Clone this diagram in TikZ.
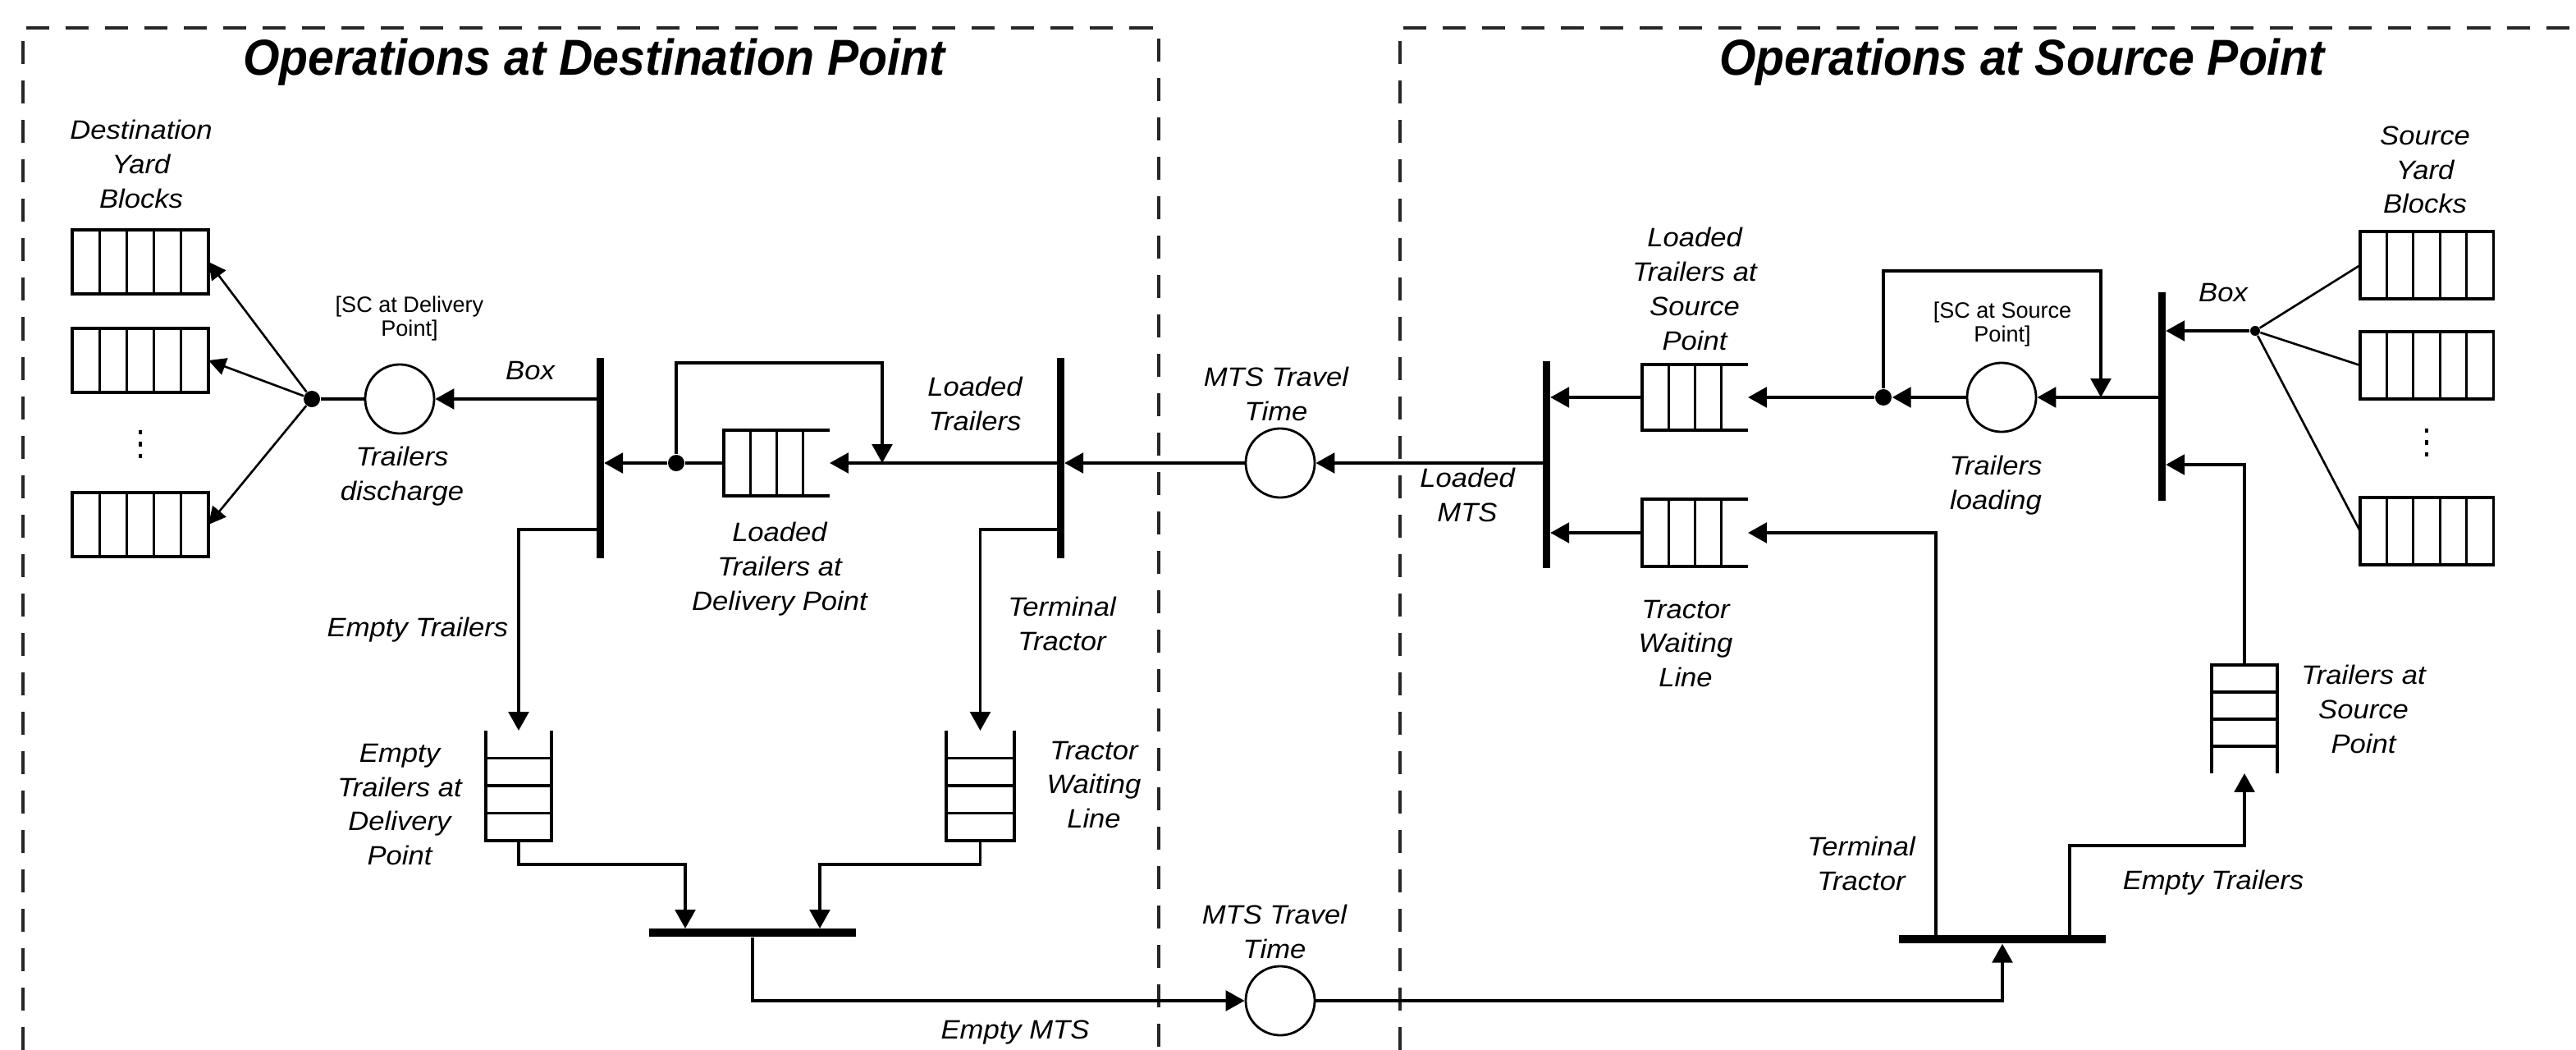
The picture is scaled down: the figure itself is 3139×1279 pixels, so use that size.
\documentclass[tikz,border=0pt]{standalone}
\usepackage{fontspec}
\setmainfont{Liberation Sans}
\newfontfamily\labfont[FakeStretch=1.07]{Liberation Sans}
\newfontfamily\titfont[FakeStretch=0.93]{Liberation Sans}
\usetikzlibrary{arrows.meta,calc}
\newcommand\hqueueR[1]{%
  \draw[qline] (#1.north east) -- (#1.north west) -- (#1.south west) -- (#1.south east);
  \foreach \qf in {0.25,0.5,0.75} \draw[qline] ($(#1.north west)!\qf!(#1.north east)$) -- ($(#1.south west)!\qf!(#1.south east)$);}
\newcommand\vqueueT[1]{%
  \draw[qline] (#1.north west) -- (#1.south west) -- (#1.south east) -- (#1.north east);
  \foreach \qf in {0.25,0.5,0.75} \draw[qline] ($(#1.south west)!\qf!(#1.north west)$) -- ($(#1.south east)!\qf!(#1.north east)$);}
\newcommand\vqueueB[1]{%
  \draw[qline] (#1.south west) -- (#1.north west) -- (#1.north east) -- (#1.south east);
  \foreach \qf in {0.25,0.5,0.75} \draw[qline] ($(#1.north west)!\qf!(#1.south west)$) -- ($(#1.north east)!\qf!(#1.south east)$);}
\newcommand\yblocklines[1]{%
  \foreach \qf in {0.2,0.4,0.6,0.8} \draw[qline] ($(#1.north west)!\qf!(#1.north east)$) -- ($(#1.south west)!\qf!(#1.south east)$);}
\begin{document}
\begin{tikzpicture}[x=0.01cm,y=-0.01cm,
  lbl/.style={font=\labfont\itshape\fontsize{9.2}{11.9}\selectfont, align=center, inner sep=0pt},
  sclbl/.style={font=\fontsize{7.7}{8.5}\selectfont, align=center, inner sep=0pt},
  ttl/.style={font=\titfont\bfseries\itshape\fontsize{17.5}{20}\selectfont, inner sep=0pt},
  conn/.style={line width=1pt},
  thinconn/.style={line width=0.75pt},
  arr/.style={conn, -{Triangle[length=6.5pt,width=7pt]}},
  thinarr/.style={thinconn, -{Triangle[length=6pt,width=6pt]}},
  vbar/.style={fill=black, minimum width=0.09cm, inner sep=0pt},
  hbar/.style={fill=black, minimum height=0.1cm, inner sep=0pt},
  circ/.style={circle, draw, line width=0.8pt, minimum size=0.84cm, inner sep=0pt},
  jdot/.style={circle, fill=black, minimum size=0.2cm, inner sep=0pt},
  sdot/.style={circle, fill=black, minimum size=0.12cm, inner sep=0pt},
  qshape/.style={inner sep=0pt, outer sep=0pt},
  qline/.style={line width=0.9pt},
  yblk/.style={draw, line width=0.9pt, inner sep=0pt, outer sep=0pt},
  region/.style={line width=1.1pt, dash pattern=on 0.28cm off 0.2cm, draw=black!85},
  vdots/.style={line width=1.2pt, dash pattern=on 1.5pt off 2.6pt},
]
\fill[white] (0,0) rectangle (3139,1279);
\useasboundingbox (0,0) rectangle (3139,1279);

% regions
\draw[region] (28,1279) -- (28,34) -- (1412,34) -- (1412,1279);
\draw[region] (1706,1279) -- (1706,34) -- (3139,34);
\node[ttl] (t1) at (724,76) {Operations at Destination Point};
\node[ttl] (t2) at (2464,76) {Operations at Source Point};

% ===== Destination side =====
\node[lbl] (ldyb) at (172,200) {Destination\\Yard\\Blocks};
\node[yblk, minimum width=1.66cm, minimum height=0.78cm] (db1) at (171,319) {};
\node[yblk, minimum width=1.66cm, minimum height=0.78cm] (db2) at (171,439) {};
\node[yblk, minimum width=1.66cm, minimum height=0.78cm] (db3) at (171,639) {};
\yblocklines{db1}\yblocklines{db2}\yblocklines{db3}
\draw[vdots] ($(db2.south)+(0,46)$) -- ($(db3.north)+(0,-34)$);

\node[jdot] (j1) at (380,486) {};
\draw[thinarr] (j1) -- (db1.east);
\draw[thinarr] (j1) -- (db2.east);
\draw[thinarr] (j1) -- (db3.east);

\node[circ] (cd) at (487,486) {};
\node[sclbl] (lscd) at (499,388) {[SC at Delivery\\Point]};
\node[lbl] (ltd) at (490,580) {Trailers\\discharge};
\node[vbar, minimum height=2.43cm] (b1) at (731,558) {};
\node[lbl] (lbox1) at (646,452) {Box};
\draw[arr] (b1 |- cd) -- (cd);
\draw[conn] (cd) -- (j1);

\node[jdot] (d2) at (824,564) {};
\node[qshape, minimum width=1.29cm, minimum height=0.8cm] (lq) at (946.5,564) {};
\hqueueR{lq}
\draw[arr] (d2) -- (b1.east |- d2);
\draw[conn] (lq.west) -- (d2);
\coordinate (lt1) at (1075,442);
\coordinate (lp1) at (1075,564);
\draw[arr] (d2) |- (lt1) -- (lp1);
\node[vbar, minimum height=2.43cm] (b2) at (1292,558) {};
\draw[arr] (b2 |- lq) -- (lq.east);
\node[lbl] (llt) at (1188,492) {Loaded\\Trailers};
\node[lbl] (lltdp) at (950,693) {Loaded\\Trailers at\\Delivery Point};

\node[circ] (m1) at (1560,564) {};
\node[lbl] (lm1) at (1555,480) {MTS Travel\\Time};
\draw[arr] (m1) -- (b2.east |- m1);

\coordinate (b1o) at (731,645);
\coordinate (b2o) at (1292,645);
\node[qshape, minimum width=0.8cm, minimum height=1.34cm] (eq) at (632,957) {};
\node[qshape, minimum width=0.83cm, minimum height=1.34cm] (tq) at (1194.5,957) {};
\vqueueT{eq}\vqueueT{tq}
\draw[arr] (b1o) -| (eq.north);
\draw[arr] (b2o) -| (tq.north);
\node[lbl] (let1) at (509,767) {Empty Trailers};
\node[lbl] (letdp) at (487,980) {Empty\\Trailers at\\Delivery\\Point};
\node[lbl] (ltt1) at (1294,760) {Terminal\\Tractor};
\node[lbl] (ltwl1) at (1333,956) {Tractor\\Waiting\\Line};

\node[hbar, minimum width=2.52cm] (bb1) at (917,1136) {};
\coordinate (bb1a) at (835,1131);
\coordinate (bb1b) at (999,1131);
\draw[arr] (eq.south) -- ++(0,29) -| (bb1a);
\draw[arr] (tq.south) -- ++(0,29) -| (bb1b);

\node[circ] (m2) at (1560,1219) {};
\node[lbl] (lm2) at (1553,1135) {MTS Travel\\Time};
\node[lbl] (lem) at (1237,1258) {Empty MTS};
\draw[arr] (bb1) |- (m2);

% ===== Source side =====
\node[vbar, minimum height=2.52cm] (b3) at (1884,566) {};
\draw[arr] (b3 |- m1) -- (m1);
\node[lbl] (llm) at (1788,603) {Loaded\\MTS};

\node[qshape, minimum width=1.29cm, minimum height=0.8cm] (lsq) at (2065.5,484) {};
\hqueueR{lsq}
\draw[arr] (lsq.west) -- (b3.east |- lsq);
\node[lbl] (lltsp) at (2065,352) {Loaded\\Trailers at\\Source\\Point};

\node[jdot] (d3) at (2295,484) {};
\draw[arr] (d3) -- (lsq.east);
\node[circ] (cl) at (2439,484) {};
\draw[arr] (cl) -- (d3);
\node[sclbl] (lscs) at (2440,395) {[SC at Source\\Point]};
\node[lbl] (ltl) at (2432,591) {Trailers\\loading};
\node[vbar, minimum height=2.54cm] (b4) at (2634,483) {};
\draw[arr] (b4 |- cl) -- (cl);
\coordinate (lt2) at (2560,330);
\coordinate (lp2) at (2560,484);
\draw[arr] (d3) |- (lt2) -- (lp2);
\node[lbl] (lbox2) at (2709,357) {Box};

\node[sdot] (j2) at (2748,403) {};
\draw[arr] (j2) -- (b4.east |- j2);
\node[lbl] (lsyb) at (2955,207) {Source\\Yard\\Blocks};
\node[yblk, minimum width=1.62cm, minimum height=0.82cm] (sb1) at (2957,323) {};
\node[yblk, minimum width=1.62cm, minimum height=0.82cm] (sb2) at (2957,445) {};
\node[yblk, minimum width=1.62cm, minimum height=0.82cm] (sb3) at (2957,647) {};
\yblocklines{sb1}\yblocklines{sb2}\yblocklines{sb3}
\draw[vdots] ($(sb2.south)+(0,36)$) -- ($(sb3.north)+(0,-42)$);
\draw[thinconn] (j2) -- (sb1.west);
\draw[thinconn] (j2) -- (sb2.west);
\draw[thinconn] (j2) -- (sb3.west);

\node[qshape, minimum width=1.29cm, minimum height=0.82cm] (tsq) at (2065.5,649) {};
\hqueueR{tsq}
\draw[arr] (tsq.west) -- (b3.east |- tsq);
\node[lbl] (ltwl2) at (2054,784) {Tractor\\Waiting\\Line};

\node[qshape, minimum width=0.8cm, minimum height=1.32cm] (sq) at (2735,876) {};
\vqueueB{sq}
\node[lbl] (ltsp) at (2880,864) {Trailers at\\Source\\Point};
\coordinate (r4) at (2735,566);
\draw[arr] (sq.north) -- (r4) -- (b4.east |- r4);

\node[hbar, minimum width=2.51cm] (bb2) at (2440,1144) {};
\coordinate (bb2t) at (2359,1144);
\coordinate (bb2e) at (2522,1144);
\coordinate (ce) at (2522,1030);
\draw[arr] (bb2t) |- (tsq.east);
\draw[arr] (bb2e) -- (ce) -| (sq.south);
\node[lbl] (ltt2) at (2268,1052) {Terminal\\Tractor};
\node[lbl] (let2) at (2697,1075) {Empty Trailers};
\draw[arr] (m2) -| (bb2.south);
\end{tikzpicture}
\end{document}
